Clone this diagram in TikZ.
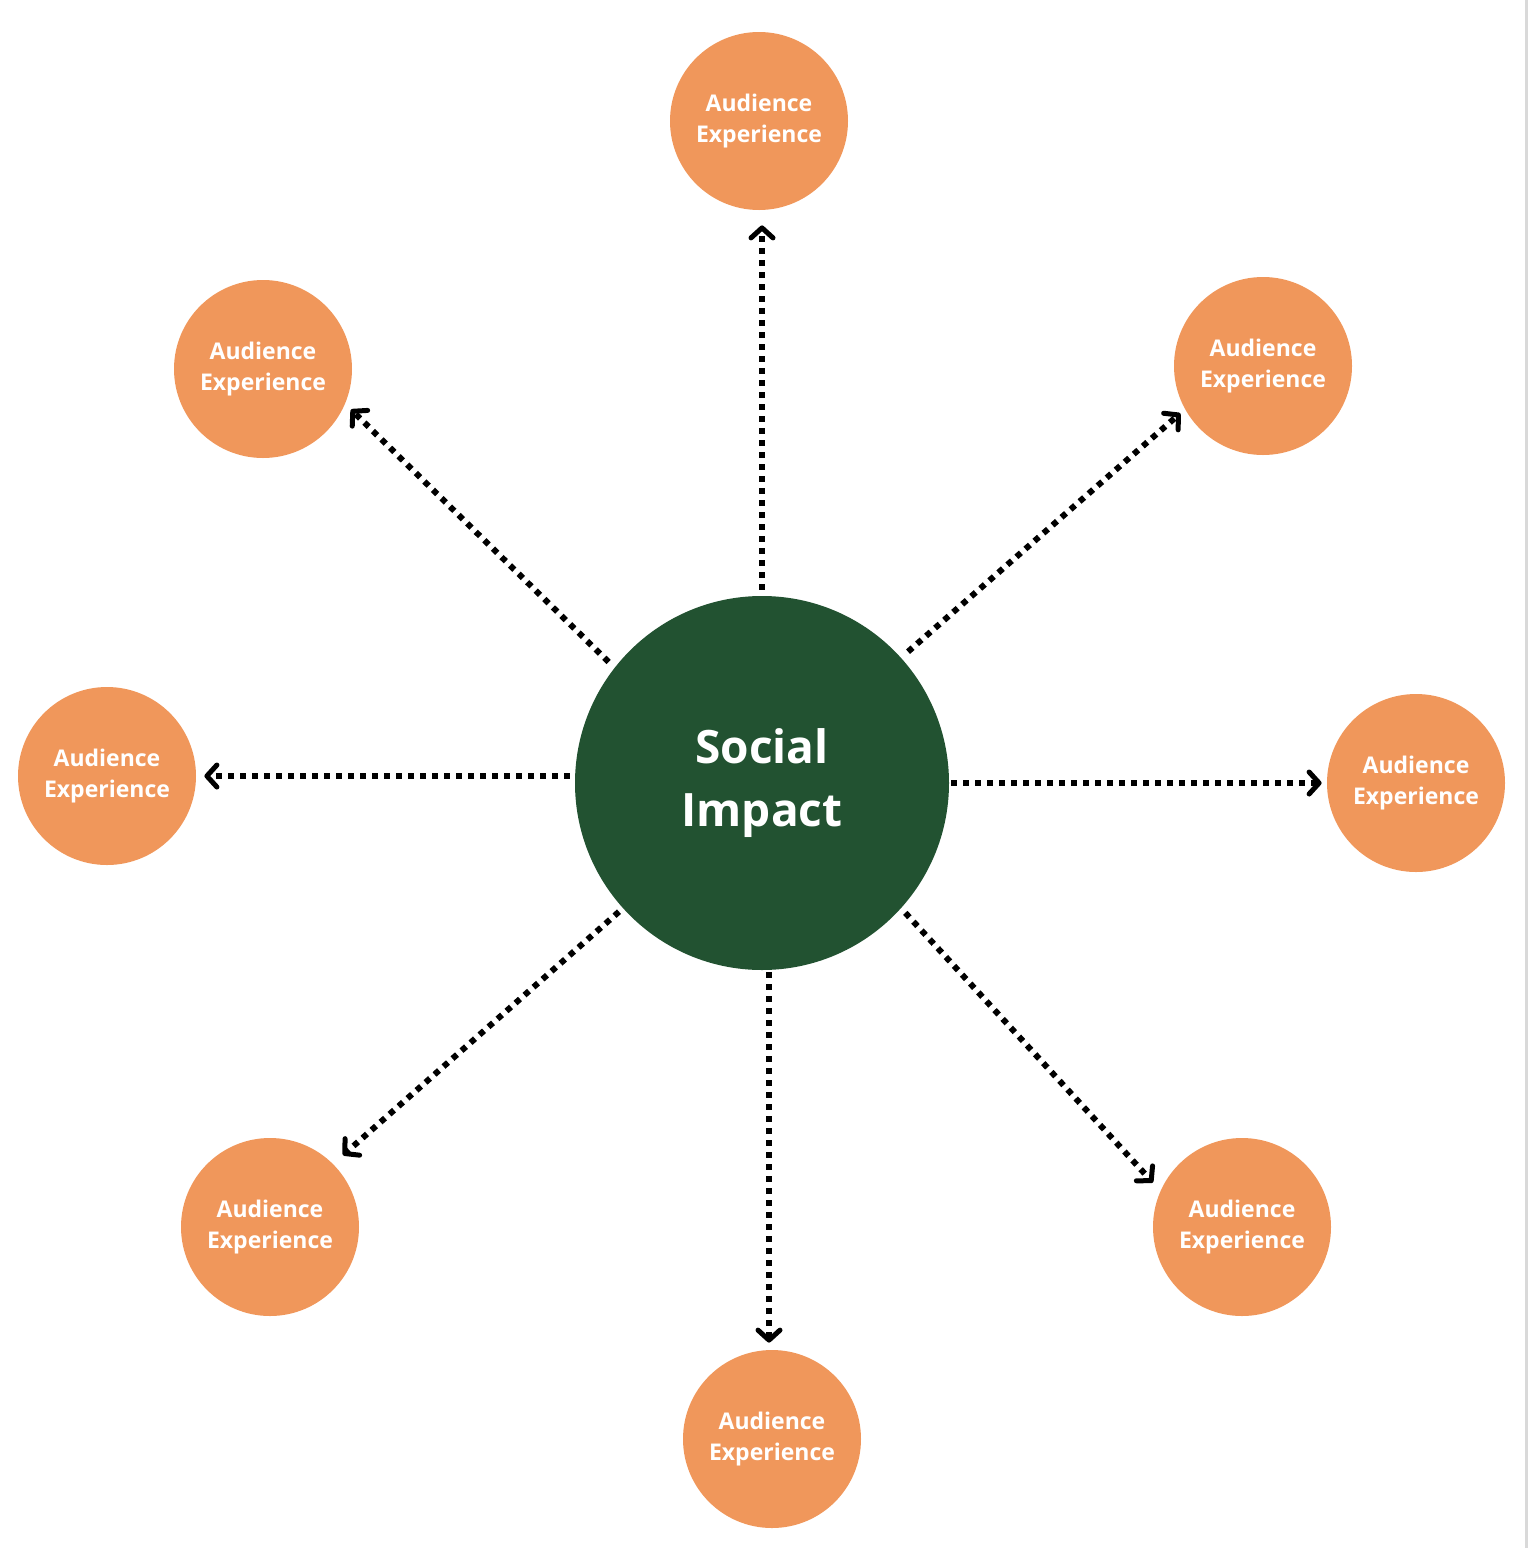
\documentclass[tikz,border=0pt]{standalone}
\usepackage{fontspec}
\setmainfont{Open Sans}
\usetikzlibrary{arrows.meta}
\definecolor{aeorange}{RGB}{240,151,91}
\definecolor{sigreen}{RGB}{34,82,49}
\begin{document}
\begin{tikzpicture}[x=0.5pt,y=-0.5pt,
  aud/.style={circle,fill=aeorange,minimum size=89pt,inner sep=0pt,text=white,
    font=\fontsize{11.5}{15.5}\selectfont\bfseries,align=center},
  hub/.style={circle,fill=sigreen,minimum size=187pt,inner sep=0pt,text=white,
    font=\fontsize{23}{31.5}\selectfont\bfseries,align=center},
  link/.style={line width=3pt,dash pattern=on 3pt off 3pt,
    -{Straight Barb[length=5pt,width=11pt,line width=2.5pt,round]}}]
\useasboundingbox (0,0) rectangle (1528,1548);
\draw[gray!30,line width=1.5pt] (1526,0) -- (1526,1548);
\node[hub] (c) at (762,783) {Social\\Impact};
\node[aud] (n) at (759,121) {Audience\\Experience};
\node[aud] (nw) at (263,369) {Audience\\Experience};
\node[aud] (ne) at (1263,366) {Audience\\Experience};
\node[aud] (w) at (107,776) {Audience\\Experience};
\node[aud] (e) at (1416,783) {Audience\\Experience};
\node[aud] (sw) at (270,1227) {Audience\\Experience};
\node[aud] (se) at (1242,1227) {Audience\\Experience};
\node[aud] (s) at (772,1439) {Audience\\Experience};
\draw[link,shorten <=3pt,shorten >=7.5pt] (c.north) -- ([xshift=1.5pt]n.south);
\draw[link,shorten <=4pt,shorten >=4pt] (c.142) -- (nw.-23);
\draw[link,shorten <=4.5pt,shorten >=3pt] (c.42) -- (ne.-151);
\draw[link,shorten <=2.5pt,shorten >=4pt] ([yshift=3.5pt]c.west) -- (w.east);
\draw[link,shorten <=1pt,shorten >=2.5pt] (c.east) -- (e.west);
\draw[link,shorten <=2.5pt,shorten >=6.5pt] (c.-138) -- (sw.45);
\draw[link,shorten <=3pt,shorten >=5.5pt] (c.-42) -- (se.156);
\draw[link,shorten <=1pt,shorten >=3.5pt] ([xshift=3.5pt]c.south) -- ([xshift=-1.5pt]s.north);
\end{tikzpicture}
\end{document}
